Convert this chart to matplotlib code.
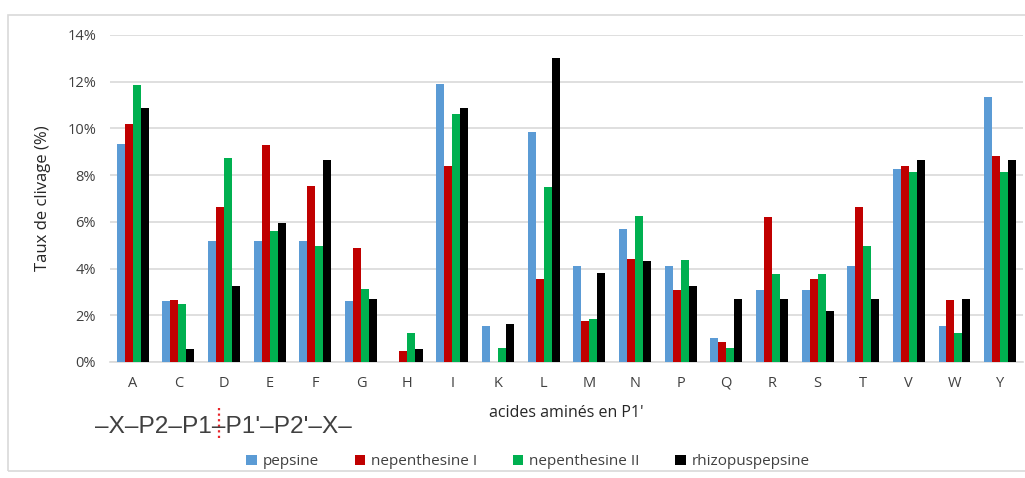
import numpy as np
import matplotlib
matplotlib.use("Agg")
import matplotlib.pyplot as plt
from matplotlib.ticker import FuncFormatter
from matplotlib.patches import Rectangle
from matplotlib.lines import Line2D

plt.rcParams['font.family'] = ['Open Sans', 'DejaVu Sans']

# acides aminés en P1'
acides = ['A', 'C', 'D', 'E', 'F', 'G', 'H', 'I', 'K', 'L',
          'M', 'N', 'P', 'Q', 'R', 'S', 'T', 'V', 'W', 'Y']

# taux de clivage (%)
pepsine = [9.33, 2.60, 5.19, 5.19, 5.19, 2.60, 0.0, 11.89, 1.54, 9.83,
           4.13, 5.69, 4.13, 1.03, 3.09, 3.09, 4.13, 8.27, 1.54, 11.36]
nepenthesine_1 = [10.17, 2.67, 6.62, 9.27, 7.53, 4.86, 0.45, 8.40, 0.0, 3.54,
                  1.74, 4.43, 3.09, 0.87, 6.19, 3.54, 6.62, 8.40, 2.66, 8.83]
nepenthesine_2 = [11.86, 2.50, 8.73, 5.59, 4.97, 3.12, 1.26, 10.62, 0.60, 7.49,
                  1.86, 6.25, 4.36, 0.60, 3.75, 3.75, 4.97, 8.12, 1.26, 8.12]
rhizopuspepsine = [10.86, 0.54, 3.24, 5.96, 8.66, 2.70, 0.54, 10.86, 1.62, 13.03,
                   3.80, 4.32, 3.24, 2.69, 2.69, 2.17, 2.69, 8.66, 2.69, 8.66]

noms = ['pepsine', 'nepenthesine I', 'nepenthesine II', 'rhizopuspepsine']
couleurs = ['#5B9BD5', '#C00000', '#00B050', '#000000']
series = [pepsine, nepenthesine_1, nepenthesine_2, rhizopuspepsine]

fig = plt.figure(figsize=(10.25, 4.78), dpi=100)
ax = fig.add_axes([0.1073, 0.2427, 0.8907, 0.6841])

x = np.arange(len(acides))
w = 0.175
for i, (vals, c, n) in enumerate(zip(series, couleurs, noms)):
    ax.bar(x + (i - 1.5) * w, np.array(vals) / 100, w, color=c, label=n, zorder=3)

ax.set_xlim(-0.5, len(acides) - 0.5)
ax.set_ylim(0, 0.14)
ax.set_yticks(np.arange(0, 0.141, 0.02))
ax.yaxis.set_major_formatter(FuncFormatter(lambda v, p: '%d%%' % round(v * 100)))
ax.set_xticks(x)
ax.set_xticklabels(acides)
ax.grid(axis='y', color='#D9D9D9', linewidth=1.2, zorder=0)
for s in ['top', 'right', 'left']:
    ax.spines[s].set_visible(False)
ax.spines['bottom'].set_color('#D9D9D9')
ax.spines['bottom'].set_linewidth(1.2)
ax.tick_params(length=0, labelsize=10.5, colors='#404040', pad=10)

ax.set_ylabel('Taux de clivage (%)', fontsize=12, color='#262626', labelpad=12)
fig.text(0.552, 0.137, "acides aminés en P1'", ha='center', va='center',
         fontsize=11.5, color='#262626')

# séquence avec site de coupure (trait pointillé rouge)
debut = '\u2013X\u2013P2\u2013P1'
seq = debut + "\u2013P1'\u2013P2'\u2013X\u2013"
t = fig.text(95 / 1025, 0.107, seq, ha='left', va='center',
             fontsize=14, color='#404040', family='Liberation Sans')
r = fig.canvas.get_renderer()
larg = t.get_window_extent(r).width
fs = 14 * 258 / larg
t.set_fontsize(fs)
t0 = fig.text(0, 0, debut, fontsize=fs, family='Liberation Sans')
td = fig.text(0, 0, '\u2013', fontsize=fs, family='Liberation Sans')
xp = 95 + t0.get_window_extent(r).width + td.get_window_extent(r).width / 2
t0.remove()
td.remove()
fig.add_artist(Line2D([xp / 1025, xp / 1025], [0.083, 0.146], color='#E8262B',
                      linestyle=(0, (1, 1.5)), linewidth=1.6))

ax.legend(loc='center', bbox_to_anchor=(0.458, -0.305), ncol=4, frameon=False,
          fontsize=11, handlelength=0.7, handleheight=0.7, handletextpad=0.4,
          columnspacing=2.3, labelcolor='#404040')

# cadre du graphique
fig.add_artist(Rectangle((0.008, 0.015), 1.2, 0.954, transform=fig.transFigure,
                         fill=False, edgecolor='#D9D9D9', linewidth=1.2))

fig.savefig('out.png', dpi=100, facecolor='white')
